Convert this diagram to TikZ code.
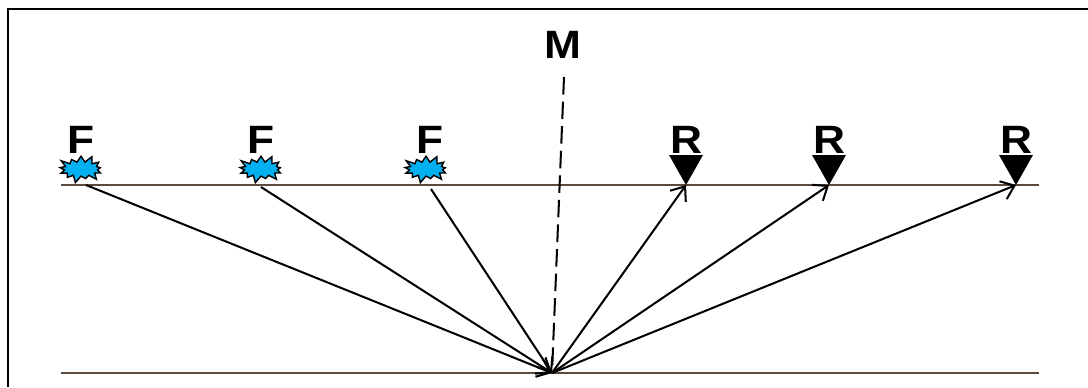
\documentclass[tikz,border=0pt]{standalone}
\usepackage{fontspec}
\setmainfont{Liberation Sans}
\usetikzlibrary{shapes.symbols,arrows.meta}
\definecolor{groundline}{HTML}{5C4A3D}
\definecolor{shotblue}{HTML}{00B0F0}
\tikzset{
    letter/.style={font=\bfseries\fontsize{22.5}{22.5}\selectfont, inner sep=0pt, anchor=base, xscale=1.12},
    shot/.style={starburst, starburst points=13, starburst point height=4.5pt, fill=shotblue, draw=black, line width=0.8pt, minimum width=0.98cm, minimum height=0.6cm, inner sep=0pt},
    ray/.style={line width=1.15pt, -{Straight Barb[length=7pt,width=11pt]}},
}
\begin{document}
\begin{tikzpicture}[x=0.02cm,y=-0.02cm]
    \useasboundingbox (0,0) rectangle (1088,387);
    % frame
    \draw[line width=1.1pt] (8,387) -- (8,9) -- (1088,9);

    % layers
    \draw[groundline, line width=1.2pt] (61,185) -- (1039,185);
    \draw[groundline, line width=1.2pt] (61,373) -- (1039,373);

    % normal
    \coordinate (top) at (564,77);
    \coordinate (bounce) at (552,373);
    \draw[line width=1.15pt, dash pattern=on 10pt off 4pt] (top) -- (bounce);
    \node[letter] (m) at (563,58) {M};

    % sources
    \foreach \i/\x/\t in {1/81/81, 2/261/261, 3/426/430} {
        \node[shot] (s\i) at (\x,169) {};
        \node[letter] (f\i) at (\t,153) {F};
    }
    \coordinate (a1) at (86,185);
    \coordinate (a2) at (261,187);
    \coordinate (a3) at (431,189);
    \foreach \i in {1,2,3}
        \draw[ray] (a\i) -- (bounce);

    % receivers
    \foreach \i/\x in {1/686, 2/829, 3/1016} {
        \coordinate (g\i) at (\x,185);
        \fill (\x-17,155) -- (\x+17,155) -- (g\i) -- cycle;
        \node[letter] (r\i) at (\x,153) {R};
        \draw[ray] (bounce) -- (g\i);
    }
\end{tikzpicture}
\end{document}
